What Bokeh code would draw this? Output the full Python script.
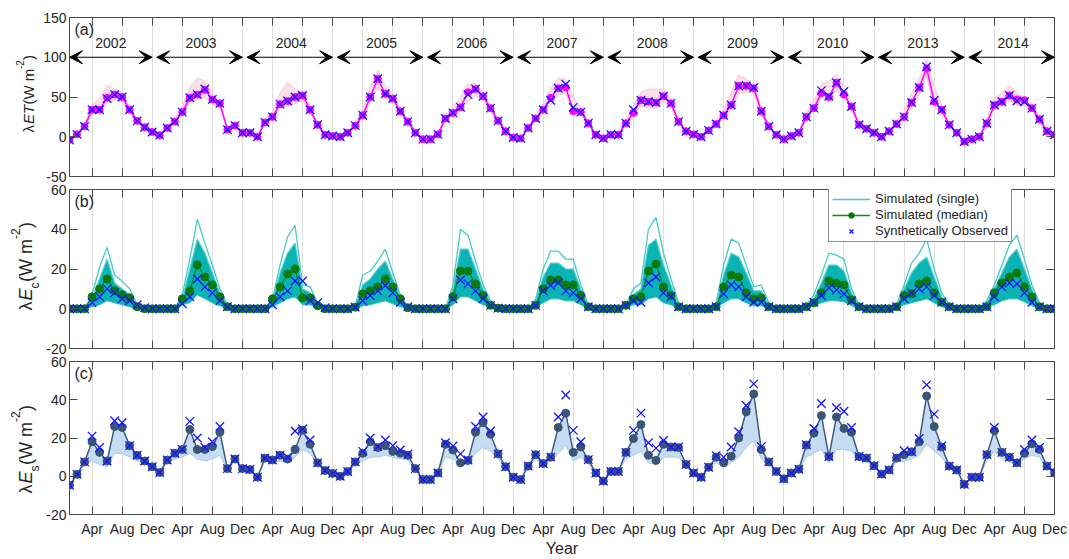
import numpy as np
from bokeh.plotting import figure
from bokeh.layouts import column, row
from bokeh.models import (Range1d, FixedTicker, LinearAxis, Label, Arrow, VeeHead,
                          Legend, LegendItem, Grid)
from bokeh.embed import file_html
from bokeh.resources import INLINE
from bokeh.core.properties import value

# ---------------- data ----------------
years = ["2002", "2003", "2004", "2005", "2006", "2007", "2008", "2009", "2010", "2013", "2014"]
tick_month_labels = ["Apr", "Aug", "Dec"]
tick_month_pos = [4, 8, 12]

# (a) lambda ET
et_obs = [
    [-4, 3, 13, 34, 34, 48, 53, 50, 34, 20, 12, 6],
    [2, 11, 19, 31, 49, 53, 60, 47, 42, 9, 14, 5],
    [5, 0, 18, 25, 41, 45, 50, 52, 34, 15, 2.5, 1],
    [0, 5, 14, 27, 50, 73, 54, 48, 32, 19, 5, -3],
    [-3, 3, 23, 30, 37, 53, 60, 51, 36, 20, 7, -1],
    [-2, 11, 23, 34, 46, 61, 66, 37, 31, 17, 2.5, -2],
    [2.5, 2.5, 17, 34, 46, 44, 43, 51, 42, 19, 7, 3],
    [0, 8, 16, 27, 40, 64, 64, 62, 32, 13, 2.5, -3],
    [1, 5, 25, 36, 58, 51, 68, 57, 38, 15, 10, 5],
    [0, 7, 16, 25, 43, 62, 88, 46, 34, 15, 5, -6],
    [-3, 0, 17, 40, 44, 52, 45, 44, 36, 22, 7, 2.5],
]
et_med = [
    [-4, 3, 13, 34, 34, 49, 53, 50, 34, 20, 12, 6],
    [2, 11, 19, 31, 49, 53, 59, 47, 42, 9, 14, 5],
    [5, 0, 18, 25, 41, 45, 50, 52, 34, 15, 2.5, 1],
    [0, 5, 14, 27, 50, 73, 54, 48, 32, 19, 5, -3],
    [-3, 3, 23, 30, 37, 56, 60, 51, 36, 20, 7, -1],
    [-2, 11, 23, 34, 49, 61, 62, 32, 31, 17, 2.5, -2],
    [2.5, 2.5, 17, 30, 46, 44, 43, 51, 42, 19, 7, 3],
    [0, 8, 16, 27, 40, 64, 64, 61, 32, 13, 2.5, -3],
    [1, 5, 25, 36, 55, 50, 68, 53, 38, 15, 10, 5],
    [0, 7, 16, 25, 43, 62, 86, 44, 34, 15, 5, -6],
    [-3, 0, 17, 40, 44, 52, 47, 46, 36, 22, 7, 2.5],
]
et_hi = [
    [-3, 5, 17, 40, 48, 64, 60, 56, 38, 22, 13, 7],
    [3, 13, 22, 38, 62, 74, 70, 55, 45, 11, 15, 6],
    [6, 2, 21, 32, 55, 68, 60, 56, 38, 17, 4, 2],
    [1, 7, 18, 35, 62, 84, 64, 55, 36, 21, 6, -2],
    [-2, 5, 27, 38, 50, 66, 67, 56, 40, 22, 8, 0],
    [-1, 13, 27, 42, 60, 74, 72, 50, 36, 19, 4, -1],
    [3.5, 4, 20, 40, 56, 60, 60, 60, 48, 22, 8, 4],
    [1, 10, 20, 35, 55, 78, 72, 66, 38, 15, 4, -2],
    [2, 7, 29, 44, 66, 70, 78, 64, 42, 17, 11, 6],
    [1, 9, 20, 32, 55, 72, 98, 62, 40, 17, 6, -5],
    [-2, 2, 22, 48, 56, 64, 55, 50, 40, 24, 8, 3.5],
]
et_lo = [
    [-5, 2, 11, 30, 30, 42, 46, 44, 30, 18, 11, 5],
    [1, 9, 17, 27, 44, 47, 50, 40, 38, 8, 13, 4],
    [4, -1, 16, 22, 36, 38, 42, 45, 30, 13, 2, 0],
    [-1, 4, 12, 24, 44, 62, 47, 42, 28, 17, 4, -4],
    [-4, 2, 20, 27, 32, 45, 52, 46, 32, 18, 6, -2],
    [-3, 10, 20, 30, 40, 52, 55, 30, 28, 15, 1.5, -3],
    [1.5, 1.5, 15, 30, 38, 36, 36, 44, 38, 17, 6, 2],
    [-1, 7, 14, 24, 34, 54, 56, 55, 28, 11, 1.5, -4],
    [0, 4, 22, 32, 50, 44, 58, 50, 34, 13, 9, 4],
    [-1, 6, 14, 22, 38, 53, 75, 38, 30, 13, 4, -7],
    [-4, -1, 15, 35, 38, 45, 40, 39, 33, 20, 6, 1.5],
]

# (b) lambda Ec
ec_obs = [
    [0, 0, 0, 3, 6, 10, 8, 5, 4, 2, 0.5, 0],
    [0, 0, 0, 2.5, 6, 15, 11, 8, 4, 1, 0, 0],
    [0, 0, 0, 2, 6, 9, 14, 14, 4, 3, 0.5, 0],
    [0, 0, 0.8, 4, 6.7, 9, 11.7, 8, 3.3, 1, 0, 0],
    [0, 0, 0, 5, 14.5, 12.5, 9, 5, 1.7, 0.3, 0, 0],
    [0, 0, 1.7, 9, 11.7, 13, 9, 8, 5, 1, 0, 0],
    [0, 0, 1.7, 4, 3.3, 13, 16, 8, 6, 1, 0, 0],
    [0, 0, 1, 7.5, 12, 11, 6, 3.3, 3.3, 1, 0, 0],
    [0, 0, 1, 3.3, 6.7, 10.5, 9.5, 7.5, 4, 1, 0, 0],
    [0, 0, 1, 5, 8, 10, 11, 6.7, 3.3, 1, 0, 0],
    [0, 0, 1, 6, 11, 13, 12.5, 8, 3.3, 1, 0, 0],
]
ec_med = [
    [0, 0, 0, 6, 10, 15, 9, 7, 5.5, 1, 0, 0],
    [0, 0, 0, 5, 9, 22, 16, 12, 6, 1, 0, 0],
    [0, 0, 0, 5, 11, 17.5, 20, 5.5, 5.5, 1.5, 0, 0],
    [0, 0, 0.8, 7.5, 9, 11, 15, 11, 5, 0.5, 0, 0],
    [0, 0, 0, 6, 19, 19, 12.5, 6.7, 1.7, 0.3, 0, 0],
    [0, 0, 1.7, 10, 14.5, 14.5, 12, 12, 6.7, 1, 0, 0],
    [0, 0, 1.7, 5, 6, 19, 22.5, 11, 6.7, 1, 0, 0],
    [0, 0, 1, 11, 17, 16, 8, 5, 5.5, 1, 0, 0],
    [0, 0, 1, 3, 8, 14, 13, 12, 4.5, 1, 0, 0],
    [0, 0, 1, 6.7, 7.5, 12.5, 14, 8, 3.3, 1, 0, 0],
    [0, 0, 1, 8, 13, 16, 18, 11, 6, 1, 0, 0],
]
ec_max = [
    [0, 0, 0, 7, 21, 31, 17, 14, 10, 2, 0, 0],
    [0, 0, 0, 7, 25, 45, 33, 22, 10, 2, 0, 0],
    [0, 0, 0, 5, 22, 36, 42, 12, 11, 3, 0, 0],
    [0, 0, 1, 17, 19, 24, 30, 18, 7, 1, 0, 0],
    [0, 0, 0, 12, 40, 37, 24, 12, 4, 1, 0, 0],
    [0, 0, 5, 20, 29, 29, 25, 25, 12, 2, 0, 0],
    [0, 0, 2, 10, 13, 40, 46, 28, 15, 3, 0, 0],
    [0, 0, 3, 22, 35, 33, 22, 11, 12, 3, 0, 0],
    [0, 0, 2, 7, 17, 28, 27, 25, 10, 2, 0, 0],
    [0, 0, 2, 12, 23, 28, 35, 20, 8, 2, 0, 0],
    [0, 0, 4, 12, 22, 32, 37, 25, 12, 3, 0, 0],
]
ec_dense = [
    [0, 0, 0, 5, 15, 25, 13, 10, 7, 1.5, 0, 0],
    [0, 0, 0, 5, 20, 35, 28, 18, 8, 1.5, 0, 0],
    [0, 0, 0, 4, 18, 28, 33, 10, 8, 2, 0, 0],
    [0, 0, 0.8, 12, 15, 20, 24, 15, 6, 1, 0, 0],
    [0, 0, 0, 10, 30, 30, 20, 10, 3.5, 1, 0, 0],
    [0, 0, 4, 16, 23, 23, 20, 20, 10, 1.5, 0, 0],
    [0, 0, 1.5, 7, 10, 32, 35, 22, 12, 2, 0, 0],
    [0, 0, 2, 17, 28, 26, 18, 9, 9, 2, 0, 0],
    [0, 0, 1.5, 5, 13, 22, 22, 19, 8, 1.5, 0, 0],
    [0, 0, 1.5, 10, 18, 23, 26, 16, 6, 1.5, 0, 0],
    [0, 0, 3, 10, 18, 26, 30, 20, 10, 2, 0, 0],
]
ec_min = [
    [0, 0, 0, 1, 2, 4, 3, 2, 1, 0, 0, 0],
    [0, 0, 0, 2, 3, 7, 5, 3, 1.5, 0, 0, 0],
    [0, 0, 0, 1, 3, 5, 6, 2, 2, 0.5, 0, 0],
    [0, 0, 0, 1.5, 2, 3, 4, 2.5, 1, 0, 0, 0],
    [0, 0, 0, 2, 6, 6, 4, 2, 1, 0, 0, 0],
    [0, 0, 1, 3, 5, 5, 4, 4, 2, 0, 0, 0],
    [0, 0, 0.5, 2, 2, 5, 6, 3, 2, 0, 0, 0],
    [0, 0, 0.5, 3, 5, 5, 3, 1.5, 1.5, 0, 0, 0],
    [0, 0, 0.5, 1.5, 3, 4, 4, 3.5, 1.5, 0, 0, 0],
    [0, 0, 0.5, 2, 3, 4, 5, 3, 1, 0, 0, 0],
    [0, 0, 1, 2, 4, 5, 5, 3.5, 1.5, 0, 0, 0],
]

# (c) lambda Es
es_obs = [
    [-4.7, 1, 7.5, 21, 15, 8, 29, 28, 16, 11, 8, 5],
    [2, 8.5, 12, 14, 28.7, 20, 15, 18, 26, 4, 9, 4],
    [3.5, -0.5, 9.5, 8.5, 11, 10, 23.7, 24.7, 19, 7, 3, 1.5],
    [0, 2.5, 7.5, 13, 20, 15.5, 19, 16, 13.7, 11.5, 4, -1.7],
    [-1.7, 1.7, 17.5, 15.8, 11.7, 8.5, 26, 31, 23.7, 11.7, 5, -0.5],
    [-1.7, 5.3, 11.3, 6.7, 10, 31, 42.5, 24, 18, 8.7, 1.7, -2.5],
    [2.5, 2.5, 12.5, 24, 33, 17.5, 14.7, 18.7, 15.3, 15.3, 6.2, 1.7],
    [-0.5, 4.7, 10.8, 10, 15.3, 23.3, 37, 48.3, 15.5, 7.5, 2.5, -1.3],
    [1.7, 3.7, 16.5, 25, 38, 10.3, 35.8, 34, 25.5, 10.3, 9.5, 5.5],
    [1.2, 3.3, 10, 13.3, 12.8, 19.7, 47.8, 32.5, 15.8, 5.3, 3.3, -4.2],
    [-0.5, -0.5, 11.3, 25.5, 12.5, 10, 7, 14, 19, 15, 5.3, 2],
]
es_med = [
    [-4.7, 1, 7.5, 18, 12.5, 8, 26, 25.5, 16, 11, 8, 5],
    [2, 8.5, 12, 14, 24.5, 14, 14, 15.5, 23, 4, 9, 4],
    [3.5, -0.5, 9.5, 8.5, 11, 9, 14, 24, 16.7, 7, 3, 1.5],
    [0, 2.5, 7.5, 12, 18, 15, 16, 13, 12, 11, 4, -1.7],
    [-1.7, 1.7, 16.7, 13.7, 7, 8.3, 23, 28, 22, 11.7, 5, -0.5],
    [-1.7, 5.3, 11.3, 6.7, 10, 25.5, 33, 12.5, 15.3, 8.7, 1.7, -2.5],
    [2.5, 2.5, 12.5, 19.7, 27, 11, 8.3, 16.7, 15.3, 15, 6.2, 1.7],
    [-0.5, 4.7, 10, 7, 10.5, 20, 33.7, 43, 14, 7.5, 2.5, -1.3],
    [1.7, 3.7, 16.3, 22.5, 31.7, 10.3, 31, 25, 23, 10.3, 9.5, 5.5],
    [1.2, 3.3, 9.5, 11.3, 12.8, 18, 42, 26, 15.3, 5.3, 3.3, -4.2],
    [-0.5, -0.5, 11.3, 23.8, 12.5, 10, 7, 12, 17, 14, 5.3, 2],
]
es_min = [
    [-4.7, 1, 6, 8, 6, 5, 12, 12, 10, 8, 6.5, 4.5],
    [2, 7, 9, 10, 12, 9, 8, 9, 11, 3.5, 8, 3.5],
    [3, -0.5, 8, 7, 8, 7, 10, 14, 12, 6, 2.5, 1.3],
    [0, 2, 6, 8, 10, 10, 11, 10, 9, 8.5, 3.5, -1.7],
    [-1.7, 1.5, 10, 9, 6, 6, 12, 15, 13, 9, 4.5, -0.5],
    [-1.7, 4.5, 9, 5.5, 8, 12, 16, 8, 10, 7, 1.5, -2.5],
    [2.5, 2.5, 9, 11, 13, 7, 6, 10, 10, 10, 5, 1.5],
    [-0.5, 4, 7, 5, 7, 10, 15, 19, 9, 6, 2, -1.3],
    [1.5, 3, 10, 12, 14, 7, 14, 14, 13, 8, 8, 5],
    [1, 3, 7.5, 8, 9, 11, 17, 13, 10, 4.5, 3, -4.2],
    [-0.5, -0.5, 8, 13, 9, 7.5, 6, 9, 11, 10, 4.5, 2],
]

# ---------------- helpers ----------------
FONT = "Liberation Sans"
TXT = "#262626"
BOX = "#4a4a4a"
OBS_BLUE = "#1414ff"
LAB_W = 40          # width of the strip that carries the y-axis titles
PANEL_W = 1069 - LAB_W


def flat(rows):
    return np.array([v for r in rows for v in r], dtype=float)


n_months = 12 * len(years)
months = np.arange(1, n_months + 1)
xticks = [12 * k + m for k in range(len(years)) for m in tick_month_pos]
xtick_labels = {12 * k + m: lab for k in range(len(years))
                for m, lab in zip(tick_month_pos, tick_month_labels)}


def style_axis(ax, ticker, show_labels, overrides=None, standoff=3):
    ax.ticker = ticker
    ax.major_tick_in = 8
    ax.major_tick_out = 0
    ax.minor_tick_in = 0
    ax.minor_tick_out = 0
    ax.axis_line_color = None
    ax.major_tick_line_color = BOX
    ax.major_tick_line_width = 1
    ax.major_label_text_font = FONT
    ax.major_label_text_color = TXT
    if show_labels:
        ax.major_label_text_font_size = "14px"
        ax.major_label_standoff = standoff
        if overrides:
            ax.major_label_overrides = overrides
    else:
        ax.major_label_text_font_size = "0px"
        ax.major_label_text_color = None
        ax.major_label_standoff = 0


def make_panel(ylo, yhi, yticks, top, bottom, show_x):
    height = top + 159 + bottom
    p = figure(width=PANEL_W, height=height, x_range=Range1d(1, n_months),
               y_range=Range1d(ylo, yhi), output_backend="svg", toolbar_location=None,
               x_axis_location=None, y_axis_location=None,
               min_border_left=68 - LAB_W, min_border_right=15,
               min_border_top=top, min_border_bottom=bottom)
    for g in p.xgrid + p.ygrid:
        g.visible = False
    p.outline_line_color = BOX
    p.outline_line_width = 1
    p.outline_line_alpha = 1
    p.background_fill_color = "white"
    p.border_fill_color = None
    xt = FixedTicker(ticks=xticks)
    yt = FixedTicker(ticks=yticks)
    neg = {t: str(t) for t in yticks}
    xb = LinearAxis()
    style_axis(xb, xt, show_x, xtick_labels, standoff=6)
    xa = LinearAxis()
    style_axis(xa, xt, False)
    yl = LinearAxis()
    style_axis(yl, yt, True, neg)
    yr = LinearAxis()
    style_axis(yr, yt, False)
    p.add_layout(xb, "below")
    p.add_layout(xa, "above")
    p.add_layout(yl, "left")
    p.add_layout(yr, "right")
    p.add_layout(Grid(dimension=0, ticker=xt, grid_line_color="#dedede", grid_line_width=1))
    return p, xb


def add_tag(p, tag, ytop):
    p.add_layout(Label(x=1, y=ytop, x_offset=5, y_offset=-3, text=tag,
                       text_font=FONT, text_font_size="16px", text_baseline="top",
                       text_color=TXT))


# ---------------- y-axis titles strip ----------------
lab = figure(width=LAB_W, height=559, x_range=Range1d(0, LAB_W), y_range=Range1d(559, 0),
             output_backend="svg", toolbar_location=None, x_axis_location=None,
             y_axis_location=None, min_border=0)
for g in lab.xgrid + lab.ygrid:
    g.visible = False
lab.outline_line_color = None
lab.background_fill_color = "white"
lab.border_fill_color = "white"


def add_ylabel(pieces, x0, y0):
    off = 0
    for txt, size, style, dx, w in pieces:
        lab.add_layout(Label(x=x0, y=y0, x_offset=dx, y_offset=off, text=txt,
                             angle=np.pi / 2, text_font=FONT, text_font_size=f"{size}px",
                             text_font_style=style, text_align="left",
                             text_baseline="middle", text_color=TXT))
        off += w


add_ylabel([("λ", 15, "normal", 0, 8.5), ("ET", 15, "italic", 0, 19.5),
            ("(W m", 15, "normal", 0, 35.5), ("-2", 10, "normal", -9, 9),
            (")", 15, "normal", 0, 5)], 28, 132)
add_ylabel([("λ", 18, "normal", 0, 10), ("E", 18, "italic", 0, 12),
            ("c", 12, "normal", 9, 6.5), ("(W m", 18, "normal", 0, 43),
            ("-2", 12, "normal", -10, 11), (")", 18, "normal", 0, 6)], 25, 310)
add_ylabel([("λ", 18, "normal", 0, 10), ("E", 18, "italic", 0, 12),
            ("s", 12, "normal", 9, 6.5), ("(W m", 18, "normal", 0, 43),
            ("-2", 12, "normal", -10, 11), (")", 18, "normal", 0, 6)], 25, 493)

# ---------------- panel (a) ----------------
pa, _ = make_panel(-50, 150, [-50, 0, 50, 100, 150], 17, 14, False)
pa.border_fill_color = "white"
pa.varea(x=months, y1=flat(et_lo), y2=flat(et_hi), fill_color="#fde0e7", fill_alpha=1)
pa.line(months, flat(et_hi), line_color="#f9c6d2", line_width=1)
pa.line(months, flat(et_lo), line_color="#f9c6d2", line_width=1)
pa.line(months, flat(et_med), line_color="#ff00ff", line_width=1.5)
pa.scatter(months, flat(et_med), marker="circle", size=7, fill_color="#ff00ff",
           line_color="#ff00ff")
pa.scatter(months, flat(et_obs), marker="x", size=12, line_color=OBS_BLUE, line_width=1.3)

for k, yname in enumerate(years):
    xs = 1 if k == 0 else 12 * k + 0.6
    xe = 12 * k + 12
    pa.add_layout(Arrow(x_start=xs, y_start=100, x_end=xe, y_end=100,
                        line_color="black", line_width=1,
                        start=VeeHead(size=13, fill_color="black", line_color="black"),
                        end=VeeHead(size=13, fill_color="black", line_color="black")))
pa.text(x=[12 * k + 6.5 for k in range(len(years))], y=[117.5] * len(years), text=years,
        text_align="center", text_baseline="middle", text_font=value(FONT),
        text_font_size="14px", text_color=TXT)
add_tag(pa, "(a)", 150)

# ---------------- panel (b) ----------------
pb, _ = make_panel(-20, 60, [-20, 0, 20, 40, 60], 11, 14, False)
pb.margin = (-12, 0, 0, 0)
pb.varea(x=months, y1=flat(ec_min), y2=flat(ec_dense), fill_color="#0bb4b4", fill_alpha=1)
r_single = pb.line(months, flat(ec_max), line_color="#45caca", line_width=1.3)
pb.line(months, flat(ec_dense), line_color="#52cfcf", line_width=1.2)
pb.line(months, flat(ec_min), line_color="#2cbcbc", line_width=1)
r_medl = pb.line(months, flat(ec_med), line_color="#108a10", line_width=1.3)
r_medd = pb.scatter(months, flat(ec_med), marker="circle", size=8, fill_color="#0a7a0a",
                    line_color="#0a7a0a")
r_obs = pb.scatter(months, flat(ec_obs), marker="x", size=12, line_color=OBS_BLUE,
                   line_width=1.3)
add_tag(pb, "(b)", 60)
legend = Legend(items=[
    LegendItem(label="Simulated (single)", renderers=[r_single]),
    LegendItem(label="Simulated (median)", renderers=[r_medl, r_medd]),
    LegendItem(label="Synthetically Observed", renderers=[r_obs]),
], location=(759, 106))
legend.label_text_font = FONT
legend.label_text_font_size = "13px"
legend.label_text_color = TXT
legend.label_height = 14
legend.glyph_height = 14
legend.glyph_width = 38
legend.label_standoff = 5
legend.spacing = 1
legend.padding = 3
legend.margin = 0
legend.border_line_color = "#262626"
legend.border_line_width = 1
legend.background_fill_color = "white"
legend.background_fill_alpha = 1
pb.add_layout(legend)

# ---------------- panel (c) ----------------
pc, xb_c = make_panel(-20, 60, [-20, 0, 20, 40, 60], 11, 39, True)
pc.margin = (-12, 0, 0, 0)
xb_c.axis_label = "Year"
xb_c.axis_label_text_font = FONT
xb_c.axis_label_text_font_size = "16px"
xb_c.axis_label_text_font_style = "normal"
xb_c.axis_label_text_color = TXT
xb_c.axis_label_standoff = 0
pc.varea(x=months, y1=flat(es_min), y2=flat(es_med), fill_color="#c5dcf3", fill_alpha=1)
pc.line(months, flat(es_min), line_color="#aecbec", line_width=1)
pc.line(months, flat(es_med), line_color="#3f5c7d", line_width=1.5)
pc.scatter(months, flat(es_med), marker="circle", size=8, fill_color="#3a5575",
           line_color="#3a5575")
pc.scatter(months, flat(es_obs), marker="x", size=12, line_color=OBS_BLUE, line_width=1.3)
add_tag(pc, "(c)", 60)

layout = row(lab, column(pa, pb, pc, spacing=0), spacing=0)
open("out.html", "w").write(file_html(layout, INLINE, title="ET partitioning"))
